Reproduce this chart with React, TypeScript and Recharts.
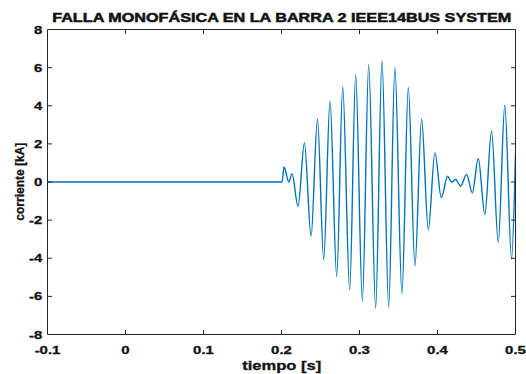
import { Line, LineChart, XAxis, YAxis } from 'recharts';

// time [s] and current [kA] (extrema of the waveform)
const TIME_S = [
  -0.1, 0.2007, 0.2033, 0.2093, 0.2135, 0.2212, 0.2294, 0.2379, 0.2461, 0.2541,
  0.2622, 0.2708, 0.2785, 0.2874, 0.2951, 0.3037, 0.3118, 0.3207, 0.3288, 0.3374,
  0.3454, 0.3544, 0.3626, 0.3711, 0.3796, 0.3882, 0.3967, 0.4049, 0.4129, 0.4181,
  0.4232, 0.4296, 0.4373, 0.4446, 0.4523, 0.4607, 0.4693, 0.4779, 0.4863, 0.4949,
  0.5,
];
const CURRENT_KA = [
  0, 0, 0.79, 0.0, 0.44, -1.28, 2.05, -2.85, 3.31, -4.08,
  4.24, -4.96, 4.99, -5.66, 5.62, -6.25, 6.15, -6.62, 6.36, -6.57,
  6.01, -5.87, 4.96, -4.4, 3.29, -2.5, 1.53, -0.82, 0.3, 0.0,
  0.13, -0.21, 0.4, -0.56, 1.23, -1.7, 2.68, -3.17, 4.03, -4.03,
  1.5,
];

const X_TICKS = [-0.1, 0, 0.1, 0.2, 0.3, 0.4, 0.5];
const Y_TICKS = [-8, -6, -4, -2, 0, 2, 4, 6, 8];

const TITLE = 'FALLA MONOFÁSICA EN LA BARRA 2 IEEE14BUS SYSTEM';
const X_LABEL = 'tiempo [s]';
const Y_LABEL = 'corriente [kA]';

const data = TIME_S.map((t, i) => ({ t, v: CURRENT_KA[i] }));

const AXIS_COLOR = '#262626';
const TEXT_COLOR = '#111111';
const FONT = '"Liberation Sans", Arial, Helvetica, sans-serif';
const TICK_LEN = 4.5;
const STRETCH = 1.3; // the reference text is wider than it is tall

const fmt = (v: number) => String(v);
// tick marks at the box corners would just sit on the frame
const isEdgeX = (v: number) => v === X_TICKS[0] || v === X_TICKS[X_TICKS.length - 1];
const isEdgeY = (v: number) => v === Y_TICKS[0] || v === Y_TICKS[Y_TICKS.length - 1];

const tickText = {
  fontFamily: FONT,
  fontSize: 11.5,
  fontWeight: 700,
  fill: TEXT_COLOR,
  stroke: TEXT_COLOR,
  strokeWidth: 0.3,
};

function BottomTick({ x, y, payload }: any) {
  return (
    <g>
      {!isEdgeX(payload.value) && <line x1={x} x2={x} y1={y} y2={y - TICK_LEN} stroke={AXIS_COLOR} />}
      <text transform={`translate(${x},${y + 19}) scale(${STRETCH},1)`} textAnchor="middle" {...tickText}>
        {fmt(payload.value)}
      </text>
    </g>
  );
}

function TopTick({ x, y, payload }: any) {
  if (isEdgeX(payload.value)) return <g />;
  return <line x1={x} x2={x} y1={y} y2={y + TICK_LEN} stroke={AXIS_COLOR} />;
}

function LeftTick({ x, y, payload }: any) {
  return (
    <g>
      {!isEdgeY(payload.value) && <line x1={x} x2={x + TICK_LEN} y1={y} y2={y} stroke={AXIS_COLOR} />}
      <text transform={`translate(${x - 5.3},${y + 4.1}) scale(${STRETCH},1)`} textAnchor="end" {...tickText}>
        {fmt(payload.value)}
      </text>
    </g>
  );
}

function RightTick({ x, y, payload }: any) {
  if (isEdgeY(payload.value)) return <g />;
  return <line x1={x} x2={x - TICK_LEN} y1={y} y2={y} stroke={AXIS_COLOR} />;
}

export default function App() {
  const labelStyle = { fontFamily: FONT, fontWeight: 700, fill: TEXT_COLOR, stroke: TEXT_COLOR };
  return (
    <div style={{ position: 'absolute', left: 0, top: 0, width: 526, height: 374, background: '#fff' }}>
      {/* axes are 1px thick so they still render; margins compensate */}
      <LineChart
        width={526}
        height={374}
        data={data}
        margin={{ top: 28.5, right: 9.5, bottom: 38.5, left: 46.5 }}
      >
        <XAxis
          dataKey="t"
          type="number"
          domain={[-0.1, 0.5]}
          ticks={X_TICKS}
          interval={0}
          height={1}
          tickSize={0}
          tickMargin={0}
          tickLine={false}
          tick={<BottomTick />}
          axisLine={{ stroke: AXIS_COLOR }}
          allowDataOverflow
        />
        <XAxis
          xAxisId="top"
          orientation="top"
          dataKey="t"
          type="number"
          domain={[-0.1, 0.5]}
          ticks={X_TICKS}
          interval={0}
          height={1}
          tickSize={0}
          tickMargin={0}
          tickLine={false}
          tick={<TopTick />}
          axisLine={{ stroke: AXIS_COLOR }}
          allowDataOverflow
        />
        <YAxis
          type="number"
          domain={[-8, 8]}
          ticks={Y_TICKS}
          interval={0}
          width={1}
          tickSize={0}
          tickMargin={0}
          tickLine={false}
          tick={<LeftTick />}
          axisLine={{ stroke: AXIS_COLOR }}
          allowDataOverflow
        />
        <YAxis
          yAxisId="right"
          orientation="right"
          type="number"
          domain={[-8, 8]}
          ticks={Y_TICKS}
          interval={0}
          width={1}
          tickSize={0}
          tickMargin={0}
          tickLine={false}
          tick={<RightTick />}
          axisLine={{ stroke: AXIS_COLOR }}
          allowDataOverflow
        />
        {/* invisible copy so the top/right frame axes get a real scale */}
        <Line
          xAxisId="top"
          yAxisId="right"
          type="monotone"
          dataKey="v"
          stroke="none"
          strokeWidth={0}
          dot={false}
          activeDot={false}
          legendType="none"
          isAnimationActive={false}
        />
        <Line
          type="monotone"
          dataKey="v"
          stroke="#0072BD"
          strokeWidth={1.4}
          dot={false}
          activeDot={false}
          isAnimationActive={false}
        />
      </LineChart>
      <svg
        width={526}
        height={374}
        style={{ position: 'absolute', left: 0, top: 0, pointerEvents: 'none' }}
      >
        <text x={281.7} y={22.3} textAnchor="middle" fontSize={12.5} strokeWidth={0.5} textLength={459} lengthAdjust="spacingAndGlyphs" {...labelStyle}>
          {TITLE}
        </text>
        <text x={281.7} y={370} textAnchor="middle" fontSize={12.5} strokeWidth={0.3} textLength={79} lengthAdjust="spacingAndGlyphs" {...labelStyle}>
          {X_LABEL}
        </text>
        <text
          transform="translate(23.5,181.7) rotate(-90)"
          textAnchor="middle"
          fontSize={12.5}
          strokeWidth={0.3}
          textLength={78}
          lengthAdjust="spacingAndGlyphs"
          {...labelStyle}
        >
          {Y_LABEL}
        </text>
      </svg>
    </div>
  );
}
